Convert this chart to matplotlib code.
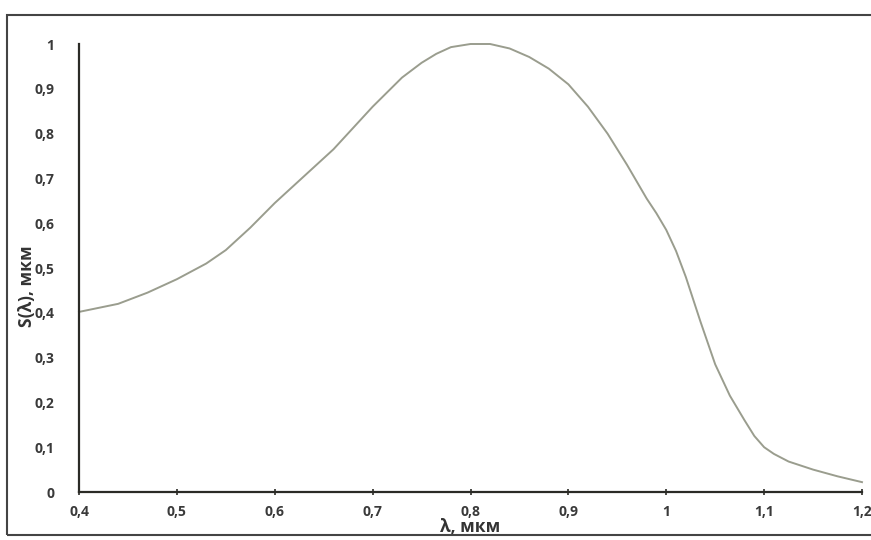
import matplotlib.pyplot as plt
from matplotlib.patches import Rectangle
from matplotlib.ticker import FuncFormatter

# спектральная характеристика, значения
wavelength = [0.40, 0.44, 0.47, 0.50, 0.53, 0.55, 0.575, 0.60, 0.63, 0.66,
              0.70, 0.73, 0.75, 0.765, 0.78, 0.80, 0.82, 0.84, 0.86, 0.88, 0.90,
              0.92, 0.94, 0.96, 0.98, 0.99, 1.00, 1.01, 1.02, 1.035, 1.05, 1.065,
              1.08, 1.09, 1.10, 1.11, 1.125, 1.15, 1.175, 1.20]
sensitivity = [0.402, 0.42, 0.445, 0.475, 0.51, 0.54, 0.59, 0.645, 0.705, 0.765,
               0.86, 0.925, 0.958, 0.978, 0.993, 1.0, 1.0, 0.99, 0.971, 0.945, 0.91,
               0.86, 0.80, 0.73, 0.655, 0.622, 0.585, 0.538, 0.48, 0.38, 0.285,
               0.215, 0.16, 0.125, 0.10, 0.085, 0.068, 0.05, 0.035, 0.022]

x_ticks = [0.4, 0.5, 0.6, 0.7, 0.8, 0.9, 1.0, 1.1, 1.2]
y_ticks = [0, 0.1, 0.2, 0.3, 0.4, 0.5, 0.6, 0.7, 0.8, 0.9, 1.0]

plt.rcParams['font.family'] = ['Open Sans', 'DejaVu Sans']


def comma_fmt(v, pos):
    s = f'{v:.1f}'.rstrip('0').rstrip('.')
    return s.replace('.', ',')


fig = plt.figure(figsize=(8.71, 5.4), dpi=100)
ax = fig.add_axes([79 / 871, 48 / 540, 783 / 871, 448 / 540])

ax.plot(wavelength, sensitivity, color='#9a9d8e', linewidth=1.4, clip_on=False,
        solid_joinstyle='round')

ax.set_xlim(0.4, 1.2)
ax.set_ylim(0, 1)
ax.set_xticks(x_ticks)
ax.set_yticks(y_ticks)
ax.xaxis.set_major_formatter(FuncFormatter(comma_fmt))
ax.yaxis.set_major_formatter(FuncFormatter(comma_fmt))

for side in ['top', 'right']:
    ax.spines[side].set_visible(False)
for side in ['left', 'bottom']:
    ax.spines[side].set_color('#2b2b26')
    ax.spines[side].set_linewidth(1.6)

ax.tick_params(axis='x', direction='inout', length=5, width=1.2, color='#2b2b26',
               pad=7, labelsize=10, labelcolor='#3a3a3a')
ax.tick_params(axis='y', length=0, pad=18, labelsize=10, labelcolor='#3a3a3a')
for lbl in ax.get_xticklabels() + ax.get_yticklabels():
    lbl.set_fontweight('bold')

ax.set_xlabel('λ, мкм', fontsize=12.5, fontweight='bold', color='#333333',
              va='center')
ax.xaxis.set_label_coords(0.5, -(527 - 492) / 448)
ax.set_ylabel('S(λ), мкм', fontsize=12.5, fontweight='bold', color='#333333',
              va='center')
ax.yaxis.set_label_coords(-(79 - 27) / 783, 0.46)

# рамка вокруг рисунка
fig.patches.append(Rectangle((7 / 871, 5 / 540), 1.0, 520 / 540,
                             transform=fig.transFigure, fill=False,
                             edgecolor='#444444', linewidth=1.5))

fig.savefig('out.png', dpi=100)
